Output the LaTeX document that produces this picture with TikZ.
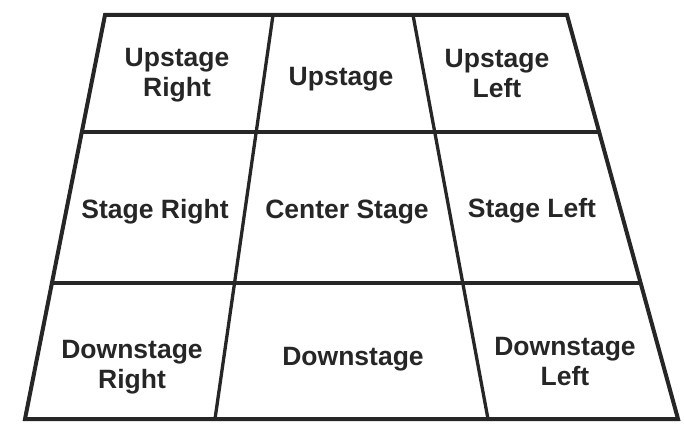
\documentclass[tikz,border=0pt]{standalone}
\usepackage{fontspec}
\setmainfont{Liberation Sans}
\usetikzlibrary{calc}

\begin{document}
\begin{tikzpicture}[
        x=1pt, y=-1pt,
        outline/.style={line width=4pt, draw=black!85, line join=miter},
        divider/.style={line width=3.3pt, draw=black!85},
        area/.style={font=\fontsize{26.5}{30}\selectfont\bfseries, align=center, text=black!85}
    ]
        \useasboundingbox (0,0) rectangle (684,427);

        % corners of the stage floor
        \coordinate (upR) at (105,15);
        \coordinate (upL) at (567,15);
        \coordinate (downR) at (25,419);
        \coordinate (downL) at (678,419);

        % where the grid lines meet the border
        \coordinate (midR1) at ($(upR)!0.2896!(downR)$);
        \coordinate (midL1) at ($(upL)!0.2896!(downL)$);
        \coordinate (midR2) at ($(upR)!0.6634!(downR)$);
        \coordinate (midL2) at ($(upL)!0.6634!(downL)$);
        \coordinate (topA) at (273,15);
        \coordinate (topB) at (413,15);
        \coordinate (botA) at (215,419);
        \coordinate (botB) at (488,419);

        \draw[divider] (midR1) -- (midL1);
        \draw[divider] (midR2) -- (midL2);
        \draw[divider] (topA) -- (botA);
        \draw[divider] (topB) -- (botB);
        \draw[outline] (upR) -- (upL) -- (downL) -- (downR) -- cycle;

        \node[area] (usr) at (177,75) {Upstage\\Right};
        \node[area] (us) at (341,79) {Upstage};
        \node[area] (usl) at (497,74) {Upstage\\Left};

        \node[area] (sr) at (155,212) {Stage Right};
        \node[area] (cs) at (347,212) {Center Stage};
        \node[area] (sl) at (532,211) {Stage Left};

        \node[area] (dsr) at (132,367) {Downstage\\Right};
        \node[area] (ds) at (353,359) {Downstage};
        \node[area] (dsl) at (565,362) {Downstage\\Left};

    \end{tikzpicture}
\end{document}
